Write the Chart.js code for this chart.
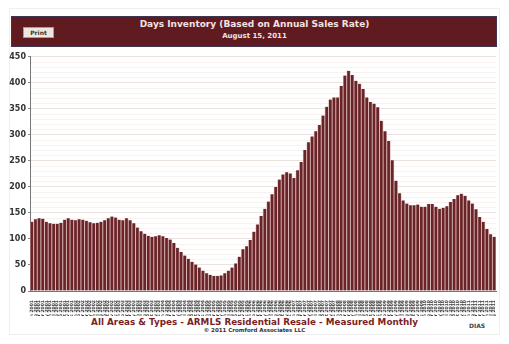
<!DOCTYPE html>
<html>
<head>
<meta charset="utf-8">
<script src="https://cdn.jsdelivr.net/npm/chart.js@4"></script>
<style>
  html, body { margin: 0; padding: 0; background: #fff; }
  #wrap { position: relative; width: 509px; height: 344px; overflow: hidden;
          font-family: "DejaVu Sans", Verdana, sans-serif; }
  #frame { position: absolute; left: 9px; top: 8px; width: 491px; height: 327px;
           border: 1px solid #efefef; box-sizing: border-box; }
  #head { position: absolute; left: 11px; top: 16px; width: 486px; height: 31px;
          background: #5f1b20; border: 1px solid #3e3550; box-sizing: border-box; }
  .center { position: absolute; left: 0; width: 509px; text-align: center; white-space: nowrap; }
  #title { top: 19px; color: #f2e2e2; font-weight: bold; font-size: 9px; }
  #date { top: 32px; color: #f2e2e2; font-weight: bold; font-size: 7px; }
  #print { position: absolute; left: 23px; top: 27px; width: 31px; height: 11px;
           background: #ebe7e2; border: 1px solid #b8988a; box-sizing: border-box;
           font-size: 6px; font-weight: bold; text-align: center; line-height: 9px; color: #333; }
  #chartBox { position: absolute; left: 0; top: 50px; width: 509px; height: 266px; }
  #foot { top: 317px; color: #7b1f25; font-weight: bold; font-size: 8.8px; }
  #copy { top: 327px; color: #333; font-weight: bold; font-size: 5.5px; }
  #dias { position: absolute; left: 469px; top: 322px; color: #444; font-weight: bold; font-size: 6px; }
</style>
</head>
<body>
<div id="wrap">
  <div id="frame"></div>
  <div id="head"></div>
  <div id="print">Print</div>
  <div id="title" class="center">Days Inventory (Based on Annual Sales Rate)</div>
  <div id="date" class="center">August 15, 2011</div>
  <div id="chartBox"><canvas id="c"></canvas></div>
  <div id="foot" class="center">All Areas &amp; Types - ARMLS Residential Resale - Measured Monthly</div>
  <div id="copy" class="center">© 2011 Cromford Associates LLC</div>
  <div id="dias">DIAS</div>
</div>
<script>
// Month names and years used for the category labels (Jan 2001 .. Aug 2011)
const monthNames = ["Jan","Feb","Mar","Apr","May","Jun","Jul","Aug","Sep","Oct","Nov","Dec"];
const years = [2001, 2002, 2003, 2004, 2005, 2006, 2007, 2008, 2009, 2010, 2011];
const lastMonthCount = 8; // data runs through August of the final year

// Days of inventory, one value per month
const daysInventory = [
  133, 138, 140, 139, 133, 130, 129, 129, 131, 137, 140, 137,   // 2001
  136, 138, 137, 135, 132, 130, 131, 133, 136, 140, 143, 141,   // 2002
  137, 136, 140, 136, 130, 122, 115, 110, 106, 104, 105, 107,   // 2003
  105, 102,  99,  92,  83,  75,  68,  62,  56,  51,  45,  39,   // 2004
   34,  31,  29,  29,  30,  34,  39,  45,  53,  66,  80,  86,   // 2005
   98, 114, 128, 144, 158, 172, 186, 200, 214, 224, 228, 226,   // 2006
  217, 232, 248, 271, 286, 297, 307, 319, 337, 354, 368, 372,   // 2007
  372, 394, 414, 423, 415, 404, 398, 388, 372, 363, 360, 353,   // 2008
  327, 307, 288, 251, 212, 188, 174, 168, 165, 165, 166, 162,   // 2009
  162, 167, 167, 162, 158, 160, 163, 171, 177, 184, 187, 183,   // 2010
  174, 168, 157, 142, 133, 119, 109, 104                        // 2011
];

// Y axis range and label spacing
const yMin = 0, yMax = 450, yMinorStep = 10, yLabelStep = 50;

const labels = [];
years.forEach((y, yi) => {
  const n = yi === years.length - 1 ? lastMonthCount : 12;
  for (let m = 0; m < n; m++) labels.push(monthNames[m] + " " + y);
});

new Chart(document.getElementById("c"), {
  type: "bar",
  data: {
    labels: labels,
    datasets: [{
      data: daysInventory,
      backgroundColor: "#6a2428",
      borderColor: "#d7b6b6",
      borderWidth: { left: 0.8, right: 0.8, top: 0, bottom: 0 },
      borderSkipped: false,
      barPercentage: 1,
      categoryPercentage: 1
    }]
  },
  options: {
    responsive: true,
    maintainAspectRatio: false,
    animation: false,
    layout: { padding: { top: 6, right: 13, left: 0, bottom: 0 } },
    plugins: { legend: { display: false }, tooltip: { enabled: false } },
    scales: {
      x: {
        grid: { display: false },
        border: { display: true, color: "#777", width: 1 },
        ticks: {
          autoSkip: false, maxRotation: 90, minRotation: 90, padding: 1,
          color: "#444", font: { family: "DejaVu Sans", size: 4.5, weight: "bold" }
        },
        afterFit: (s) => { s.height = 25; }
      },
      y: {
        min: yMin, max: yMax,
        border: { display: true, color: "#777", width: 1 },
        grid: {
          color: (ctx) => (ctx.tick && ctx.tick.value % yLabelStep === 0) ? "#ebe1dd" : "#f7f2f0",
          tickColor: (ctx) => (ctx.tick && ctx.tick.value % yLabelStep === 0) ? "#888" : "rgba(0,0,0,0)",
          tickLength: 2
        },
        ticks: {
          stepSize: yMinorStep, autoSkip: false, padding: 2,
          color: "#333", font: { family: "DejaVu Sans", size: 8, weight: "bold" },
          callback: (v) => (v % yLabelStep === 0 ? v : "")
        },
        afterFit: (s) => { s.width = 30; }
      }
    }
  }
});
</script>
</body>
</html>
